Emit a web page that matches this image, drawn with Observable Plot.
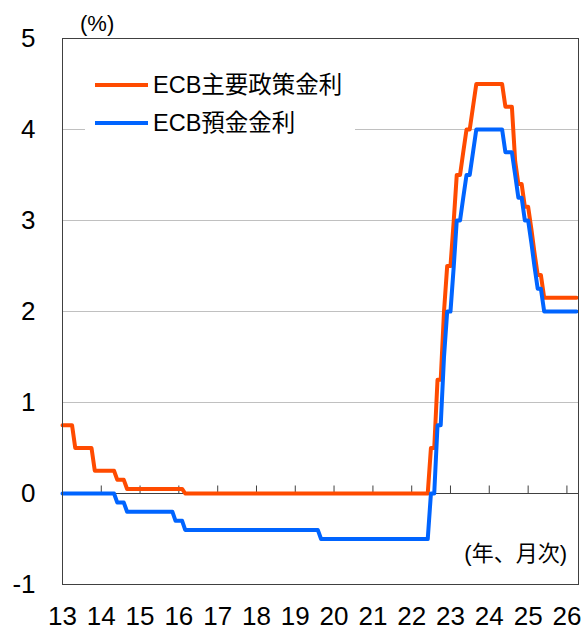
<!DOCTYPE html>
<html><head><meta charset="utf-8">
<script src="https://cdn.jsdelivr.net/npm/d3@7"></script>
<script src="https://cdn.jsdelivr.net/npm/@observablehq/plot@0.6"></script>
<style>
body{margin:0;background:#fff}
#chart{position:relative;width:585px;height:631px}
</style>
</head><body><div id="chart"></div>
<script>
const startYear = 2013;
// Monthly values, Jan 2013 .. Apr 2026 (one row per year)
const mroRate = [
  0.75,0.75,0.75,0.75,0.50,0.50,0.50,0.50,0.50,0.50,0.25,0.25,
  0.25,0.25,0.25,0.25,0.25,0.15,0.15,0.15,0.05,0.05,0.05,0.05,
  0.05,0.05,0.05,0.05,0.05,0.05,0.05,0.05,0.05,0.05,0.05,0.05,
  0.05,0.05,0,0,0,0,0,0,0,0,0,0,
  0,0,0,0,0,0,0,0,0,0,0,0,
  0,0,0,0,0,0,0,0,0,0,0,0,
  0,0,0,0,0,0,0,0,0,0,0,0,
  0,0,0,0,0,0,0,0,0,0,0,0,
  0,0,0,0,0,0,0,0,0,0,0,0,
  0,0,0,0,0,0,0.50,0.50,1.25,1.25,2.00,2.50,
  2.50,3.00,3.50,3.50,3.75,4.00,4.00,4.25,4.50,4.50,4.50,4.50,
  4.50,4.50,4.50,4.50,4.50,4.25,4.25,4.25,3.65,3.40,3.40,3.15,
  3.15,2.90,2.65,2.40,2.40,2.15,2.15,2.15,2.15,2.15,2.15,2.15,
  2.15,2.15,2.15,2.15
];
const depositRate = [
  0,0,0,0,0,0,0,0,0,0,0,0,
  0,0,0,0,0,-0.10,-0.10,-0.10,-0.20,-0.20,-0.20,-0.20,
  -0.20,-0.20,-0.20,-0.20,-0.20,-0.20,-0.20,-0.20,-0.20,-0.20,-0.20,-0.30,
  -0.30,-0.30,-0.40,-0.40,-0.40,-0.40,-0.40,-0.40,-0.40,-0.40,-0.40,-0.40,
  -0.40,-0.40,-0.40,-0.40,-0.40,-0.40,-0.40,-0.40,-0.40,-0.40,-0.40,-0.40,
  -0.40,-0.40,-0.40,-0.40,-0.40,-0.40,-0.40,-0.40,-0.40,-0.40,-0.40,-0.40,
  -0.40,-0.40,-0.40,-0.40,-0.40,-0.40,-0.40,-0.40,-0.50,-0.50,-0.50,-0.50,
  -0.50,-0.50,-0.50,-0.50,-0.50,-0.50,-0.50,-0.50,-0.50,-0.50,-0.50,-0.50,
  -0.50,-0.50,-0.50,-0.50,-0.50,-0.50,-0.50,-0.50,-0.50,-0.50,-0.50,-0.50,
  -0.50,-0.50,-0.50,-0.50,-0.50,-0.50,0,0,0.75,0.75,1.50,2.00,
  2.00,2.50,3.00,3.00,3.25,3.50,3.50,3.75,4.00,4.00,4.00,4.00,
  4.00,4.00,4.00,4.00,4.00,3.75,3.75,3.75,3.50,3.25,3.25,3.00,
  3.00,2.75,2.50,2.25,2.25,2.00,2.00,2.00,2.00,2.00,2.00,2.00,
  2.00,2.00,2.00,2.00
];
const seriesNames = ["ECB主要政策金利", "ECB預金金利"];
const seriesColors = ["#ff4b00", "#0064ff"];
const yearLabels = ["13","14","15","16","17","18","19","20","21","22","23","24","25","26"];
const yTicks = [-1, 0, 1, 2, 3, 4, 5];
const gridValues = [1, 2, 3, 4];
const yUnit = "(%)";
const xUnit = "(年、月次)";

const monthDate = i => new Date(Date.UTC(startYear, i, 1));
const mroData = mroRate.map((v, i) => ({date: monthDate(i), value: v}));
const depData = depositRate.map((v, i) => ({date: monthDate(i), value: v}));
const yearDates = yearLabels.map((s, i) => new Date(Date.UTC(startYear + i, 0, 1)));
const tickDates = yearDates.slice(1);
const tickUp = {draw(ctx) { ctx.moveTo(0, 0); ctx.lineTo(0, -8); }};

const FONT = "'Liberation Sans', Arial, 'Noto Sans CJK JP', sans-serif";

const plot = Plot.plot({
  width: 585, height: 631,
  marginLeft: 62, marginRight: 7, marginTop: 38, marginBottom: 47,
  style: {fontFamily: FONT, fontSize: "26px", color: "#000", background: "#fff", overflow: "visible"},
  x: {type: "utc", domain: [monthDate(0), new Date(Date.UTC(2026, 3, 20))]},
  y: {domain: [-1, 5]},
  marks: [
    Plot.ruleY(gridValues, {stroke: "#c0c0c0", strokeWidth: 1}),
    Plot.ruleY([0], {stroke: "#404040", strokeWidth: 1}),
    Plot.dot(tickDates, {x: d => d, y: 0, symbol: tickUp, stroke: "#404040", fill: "none", strokeWidth: 1}),
    Plot.line(mroData, {x: "date", y: "value", stroke: seriesColors[0], strokeWidth: 4}),
    Plot.line(depData, {x: "date", y: "value", stroke: seriesColors[1], strokeWidth: 4}),
    Plot.frame({stroke: "#404040", strokeWidth: 1}),
    Plot.axisY({ticks: yTicks, tickSize: 0, tickPadding: 27, fontSize: 26, tickFormat: d => String(d), label: null}),
    Plot.axisX({ticks: yearDates, tickSize: 0, tickPadding: 22, fontSize: 26,
      tickFormat: d => yearLabels[d.getUTCFullYear() - startYear], label: null})
  ]
});

const svg = d3.select(plot);
const lg = svg.append("g");
lg.append("rect").attr("x", 85).attr("y", 62).attr("width", 270).attr("height", 78).attr("fill", "#fff");
seriesNames.forEach((name, i) => {
  const yy = 85 + i * 38;
  lg.append("line").attr("x1", 95).attr("x2", 148).attr("y1", yy).attr("y2", yy)
    .attr("stroke", seriesColors[i]).attr("stroke-width", 4);
  lg.append("text").attr("x", 153).attr("y", yy).attr("dy", "0.36em").attr("text-anchor", "start")
    .attr("font-size", 23.5).attr("font-family", FONT).attr("fill", "#000").text(name);
});
svg.append("text").attr("x", 80).attr("y", 23).attr("dy", "0.36em").attr("text-anchor", "start")
  .attr("font-size", 22).attr("font-family", FONT).attr("fill", "#000").text(yUnit);
svg.append("text").attr("x", 567).attr("y", 553).attr("dy", "0.36em").attr("text-anchor", "end")
  .attr("font-size", 22).attr("font-family", FONT).attr("fill", "#000").text(xUnit);

document.getElementById("chart").appendChild(plot);
</script>
</body></html>
